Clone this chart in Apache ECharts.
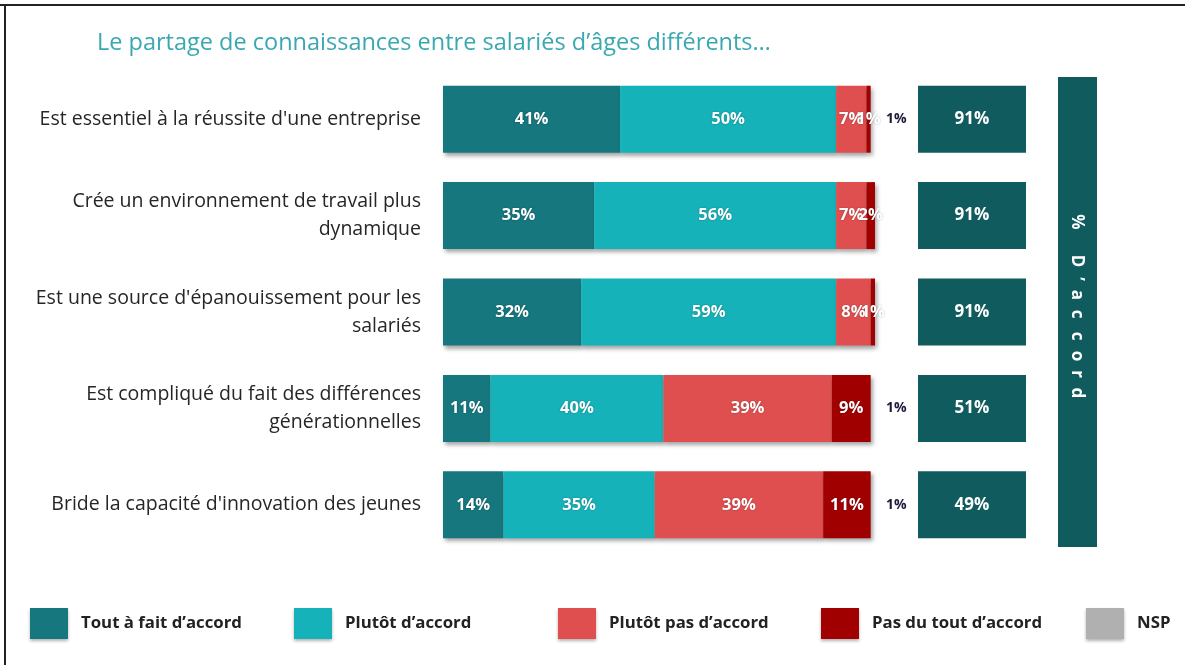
<!DOCTYPE html>
<html>
<head>
<meta charset="utf-8">
<script src="https://cdn.jsdelivr.net/npm/echarts@6/dist/echarts.min.js"></script>
<style>
html,body{margin:0;padding:0;background:#fff;}
#chart{width:1185px;height:665px;}
</style>
</head>
<body>
<div id="chart"></div>
<script>
const categories = [
  "Est essentiel à la réussite d'une entreprise",
  "Crée un environnement de travail plus\ndynamique",
  "Est une source d'épanouissement pour les\nsalariés",
  "Est compliqué du fait des différences\ngénérationnelles",
  "Bride la capacité d'innovation des jeunes"
];
const seriesNames = ["Tout à fait d’accord", "Plutôt d’accord", "Plutôt pas d’accord", "Pas du tout d’accord", "NSP"];
const toutAFait = [41, 35, 32, 11, 14];
const plutot = [50, 56, 59, 40, 35];
const plutotPas = [7, 7, 8, 39, 39];
const pasDuTout = [1, 2, 1, 9, 11];
const nsp = [1, 0, 0, 1, 1];
const accord = [91, 91, 91, 51, 49];
const accordTitle = ["%", "D", "’", "a", "c", "c", "o", "r", "d"];

const colors = ['#16777e', '#16b2b9', '#e04f4f', '#a00000', '#b0b0b0'];
const FONT = 'Open Sans';

const chart = echarts.init(document.getElementById('chart'), null, {renderer: 'canvas'});

const barShadow = {shadowColor: 'rgba(0,0,0,0.35)', shadowBlur: 4, shadowOffsetX: 2, shadowOffsetY: 3};
const segLabel = {
  show: true, position: 'inside', color: '#fff', fontWeight: 'bold', fontSize: 16.5, fontFamily: FONT,
  textShadowColor: 'rgba(0,0,0,0.3)', textShadowBlur: 2,
  formatter: p => p.value > 0 ? p.value + '%' : ''
};
const values = [toutAFait, plutot, plutotPas, pasDuTout];

const series = values.map((arr, i) => ({
  name: seriesNames[i], type: 'bar', stack: 'total', xAxisIndex: 0, yAxisIndex: 0,
  barWidth: 67, data: arr,
  itemStyle: Object.assign({color: colors[i]}, barShadow),
  label: segLabel
}));
series.push({
  name: seriesNames[4], type: 'bar', stack: 'total', xAxisIndex: 0, yAxisIndex: 0,
  barWidth: 67, data: nsp,
  itemStyle: {color: 'rgba(0,0,0,0)'},
  label: {show: true, position: 'right', distance: 11, color: '#1c1c3a', fontWeight: 'bold', fontSize: 14, fontFamily: FONT,
    formatter: p => p.value > 0 ? p.value + '%' : ''}
});
series.push({
  name: 'accord', type: 'scatter', xAxisIndex: 1, yAxisIndex: 1,
  symbol: 'rect', symbolSize: [108, 67],
  data: categories.map((c, i) => [0.5, i]),
  itemStyle: {color: '#0f5b5d', opacity: 1},
  label: {show: true, position: 'inside', color: '#fff', fontWeight: 'bold', fontSize: 17, fontFamily: FONT,
    formatter: p => accord[p.dataIndex] + '%'},
  silent: true
});

const legendLefts = [30, 294, 558, 821, 1086];
const legends = seriesNames.map((n, i) => ({
  left: legendLefts[i], top: 608, padding: 0,
  data: [{name: n, itemStyle: {color: colors[i], shadowColor: 'rgba(0,0,0,0.3)', shadowBlur: 3, shadowOffsetY: 2}}],
  itemWidth: 38, itemHeight: 31, itemGap: 0,
  icon: 'rect', selectedMode: false,
  textStyle: {fontFamily: FONT, fontWeight: 'bold', fontSize: 16.8, color: '#222', padding: [0, 0, 0, 8]}
}));

const graphics = [
  {type: 'line', shape: {x1: 0, y1: 5, x2: 1185, y2: 5}, style: {stroke: '#222', lineWidth: 2}},
  {type: 'line', shape: {x1: 5, y1: 5, x2: 5, y2: 665}, style: {stroke: '#222', lineWidth: 2}},
  {type: 'rect', shape: {x: 1058, y: 77, width: 39, height: 470}, style: {fill: '#0f5b5d'}}
];
const letterY = [222, 261, 279, 295, 314, 336, 356, 374, 393];
accordTitle.forEach((ch, i) => {
  graphics.push({
    type: 'text', x: 1077, y: letterY[i], rotation: -Math.PI / 2,
    style: {text: ch, fill: '#fff', font: 'bold 17px "Open Sans"', textAlign: 'center', textVerticalAlign: 'middle'}
  });
});

chart.setOption({
  animation: false,
  title: {
    text: 'Le partage de connaissances entre salariés d’âges différents…',
    left: 92, top: 26,
    textStyle: {fontFamily: FONT, fontWeight: 'normal', fontSize: 23.5, color: '#3aa8b0'}
  },
  legend: legends,
  grid: [
    {left: 443, width: 432, top: 71, height: 482},
    {left: 918, width: 108, top: 71, height: 482}
  ],
  xAxis: [
    {gridIndex: 0, type: 'value', min: 0, max: 100, show: false},
    {gridIndex: 1, type: 'value', min: 0, max: 1, show: false}
  ],
  yAxis: [
    {gridIndex: 0, type: 'category', data: categories, inverse: true,
      axisLine: {show: false}, axisTick: {show: false},
      axisLabel: {fontFamily: FONT, fontSize: 19.5, color: '#262626', margin: 22, lineHeight: 28, align: 'right'}},
    {gridIndex: 1, type: 'category', data: categories, inverse: true, show: false}
  ],
  series: series,
  graphic: graphics
});
</script>
</body>
</html>
